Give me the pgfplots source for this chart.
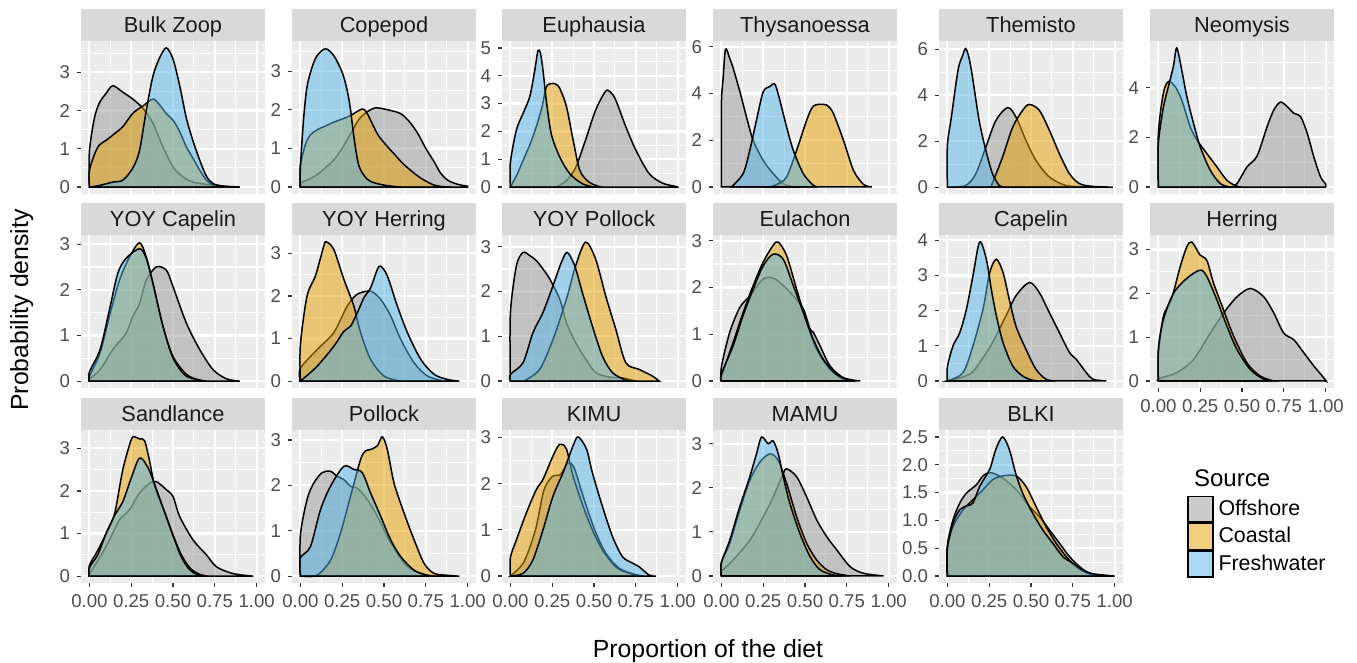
\documentclass[border=0pt]{standalone}
\usepackage{pgfplots}
\pgfplotsset{compat=1.18}
\usepackage{fontspec}
\setmainfont{Liberation Sans}
\definecolor{bgray}{HTML}{EBEBEB}
\definecolor{sgray}{HTML}{D9D9D9}
\definecolor{lgray}{HTML}{4D4D4D}
\definecolor{tgray}{HTML}{333333}
\definecolor{stxt}{HTML}{1A1A1A}
\definecolor{offc}{HTML}{999999}
\definecolor{coac}{HTML}{E69F00}
\definecolor{frwc}{HTML}{56B4E9}
\pgfplotsset{
 panel/.style={scale only axis, width=92pt, height=76.5pt, anchor=north west,
  xmin=-0.05, xmax=1.05, xtick={0,0.25,0.5,0.75,1}, minor xtick={0.125,0.375,0.625,0.875},
  xtick pos=bottom, ytick pos=left,
  grid=both, major grid style={white,line width=1.1pt}, minor grid style={white,line width=0.55pt},
  axis background/.style={fill=bgray}, axis line style={draw=none},
  tick align=outside, major tick length=2pt, minor tick length=0pt,
  tick style={color=tgray, line width=0.6pt},
  ticklabel style={font=\fontsize{9.3}{11}\selectfont, text=lgray},
  /pgf/number format/assume math mode=true,
  every axis title/.style={at={(0.5,1)}, anchor=south, yshift=0pt, fill=sgray, minimum width=92pt,
   minimum height=16pt, inner sep=0pt, text height=9.5pt, text depth=1.5pt, text=stxt,
   font=\fontsize{10.9}{12}\selectfont},
 },
 nox/.style={xticklabels={}, xtick style={draw=none}},
 withx/.style={xticklabel style={/pgf/number format/fixed, /pgf/number format/fixed zerofill, /pgf/number format/precision=2}},
 yA/.style={ytick={0,1,2,3}, minor ytick={0.5,1.5,2.5,3.5}},
 yB/.style={ytick={0,1,2,3,4}, minor ytick={0.5,1.5,2.5,3.5}},
 yC/.style={ytick={0,1,2,3,4,5}, minor ytick={0.5,1.5,2.5,3.5,4.5}},
 yD/.style={ytick={0,2,4,6}, minor ytick={1,3,5}},
 off/.style={draw=black, line width=0.75pt, fill=offc, fill opacity=0.5, smooth, tension=0.5},
 coa/.style={draw=black, line width=0.75pt, fill=coac, fill opacity=0.5, smooth, tension=0.5},
 frw/.style={draw=black, line width=0.75pt, fill=frwc, fill opacity=0.5, smooth, tension=0.5},
}
\begin{document}
\begin{tikzpicture}
\path[use as bounding box] (0,0) rectangle (678.5pt,-331.5pt);
% Row 1
\begin{axis}[panel, nox, yA, at={(40.5pt,-20.5pt)}, ymin=-0.182, ymax=3.82, title={Bulk Zoop}]
\addplot[off] coordinates {(0,0)(0,0.92)(0.03,1.8)(0.06,2.2)(0.1,2.45)(0.14,2.65)(0.2,2.48)(0.26,2.3)(0.32,2.06)(0.38,1.67)(0.44,1.05)(0.5,0.53)(0.56,0.26)(0.62,0.13)(0.7,0.07)(0.82,0.02)(0.9,0)} -- cycle;
\addplot[coa] coordinates {(0,0)(0,0.42)(0.03,0.85)(0.06,1.1)(0.1,1.22)(0.14,1.36)(0.2,1.58)(0.26,1.93)(0.32,2.12)(0.38,2.3)(0.42,2.15)(0.46,1.92)(0.5,1.75)(0.54,1.45)(0.58,1.05)(0.62,0.75)(0.66,0.44)(0.7,0.18)(0.74,0.05)(0.8,0)} -- cycle;
\addplot[frw] coordinates {(0,0)(0.06,0.04)(0.14,0.13)(0.2,0.18)(0.26,0.5)(0.3,0.96)(0.34,2.0)(0.38,2.9)(0.42,3.38)(0.46,3.64)(0.5,3.35)(0.54,2.65)(0.58,1.8)(0.62,1.2)(0.66,0.7)(0.7,0.28)(0.74,0.09)(0.8,0.02)(0.85,0)} -- cycle;
\end{axis}
\begin{axis}[panel, nox, yA, at={(146pt,-20.5pt)}, ymin=-0.18, ymax=3.78, title={Copepod}]
\addplot[off] coordinates {(0,0)(0,0.1)(0.05,0.2)(0.1,0.32)(0.15,0.5)(0.2,0.7)(0.25,1.0)(0.3,1.38)(0.35,1.75)(0.4,1.95)(0.45,2.05)(0.5,2.02)(0.55,1.97)(0.6,1.9)(0.65,1.7)(0.7,1.4)(0.75,1.0)(0.8,0.65)(0.84,0.35)(0.88,0.18)(0.92,0.1)(0.96,0.05)(1,0.02)(1,0)} -- cycle;
\addplot[coa] coordinates {(0,0)(0,0.55)(0.03,1.1)(0.06,1.35)(0.1,1.48)(0.15,1.58)(0.2,1.68)(0.25,1.76)(0.3,1.85)(0.37,2.02)(0.4,1.9)(0.46,1.38)(0.51,1.1)(0.56,0.86)(0.61,0.62)(0.66,0.43)(0.71,0.26)(0.76,0.13)(0.8,0.05)(0.85,0.01)(0.9,0)} -- cycle;
\addplot[frw] coordinates {(0,0)(0,0.5)(0.02,1.8)(0.04,2.6)(0.07,3.1)(0.1,3.4)(0.15,3.58)(0.2,3.4)(0.25,2.97)(0.28,2.5)(0.3,2.0)(0.32,1.3)(0.35,0.55)(0.4,0.2)(0.45,0.1)(0.5,0.05)(0.55,0.02)(0.6,0)} -- cycle;
\end{axis}
\begin{axis}[panel, nox, yC, at={(251pt,-20.5pt)}, ymin=-0.25, ymax=5.25, title={Euphausia}]
\addplot[off] coordinates {(0.27,0)(0.33,0.2)(0.39,0.7)(0.45,1.7)(0.51,2.77)(0.57,3.45)(0.6,3.4)(0.63,3.13)(0.69,2.17)(0.75,1.33)(0.83,0.48)(0.91,0.14)(0.99,0.02)(1,0)} -- cycle;
\addplot[coa] coordinates {(0,0)(0.04,0.45)(0.076,0.96)(0.115,1.5)(0.155,2.17)(0.19,2.9)(0.215,3.6)(0.245,3.72)(0.27,3.7)(0.295,3.55)(0.335,2.9)(0.375,1.7)(0.415,0.6)(0.47,0.18)(0.53,0.02)(0.55,0)} -- cycle;
\addplot[frw] coordinates {(0,0)(0,0.88)(0.036,2.05)(0.076,2.65)(0.116,3.25)(0.145,4.16)(0.165,4.9)(0.18,4.8)(0.195,4.2)(0.215,3.1)(0.245,1.9)(0.295,1.08)(0.355,0.48)(0.43,0.12)(0.5,0)} -- cycle;
\end{axis}
\begin{axis}[panel, nox, yD, at={(356.5pt,-20.5pt)}, ymin=-0.3, ymax=6.25, title={Thysanoessa}]
\addplot[off] coordinates {(0,0)(0,3.5)(0.01,4.6)(0.025,5.9)(0.05,5.5)(0.07,5.1)(0.11,4.1)(0.15,3.0)(0.19,2.0)(0.25,1.14)(0.31,0.57)(0.37,0.14)(0.43,0)} -- cycle;
\addplot[coa] coordinates {(0.29,0)(0.33,0.1)(0.39,0.43)(0.45,1.57)(0.51,2.86)(0.55,3.46)(0.61,3.54)(0.64,3.45)(0.67,3.14)(0.73,2.0)(0.79,0.71)(0.85,0.11)(0.9,0)} -- cycle;
\addplot[frw] coordinates {(0.06,0)(0.13,0.57)(0.17,1.57)(0.21,2.86)(0.25,4.07)(0.29,4.3)(0.32,4.4)(0.35,3.7)(0.39,2.57)(0.43,1.57)(0.49,0.57)(0.55,0.07)(0.58,0)} -- cycle;
\end{axis}
\begin{axis}[panel, nox, yD, at={(469.5pt,-20.5pt)}, ymin=-0.3, ymax=6.36, title={Themisto}]
\addplot[off] coordinates {(0.02,0)(0.11,0.07)(0.17,0.58)(0.23,1.74)(0.29,2.9)(0.36,3.46)(0.41,3.05)(0.47,2.03)(0.53,1.16)(0.61,0.44)(0.71,0.07)(0.85,0)} -- cycle;
\addplot[coa] coordinates {(0.26,0)(0.33,1.31)(0.39,2.6)(0.45,3.34)(0.49,3.6)(0.55,3.34)(0.61,2.47)(0.67,1.45)(0.73,0.58)(0.79,0.15)(0.87,0.03)(0.99,0)} -- cycle;
\addplot[frw] coordinates {(0,0)(0,1.8)(0.024,3.05)(0.064,5.1)(0.09,5.7)(0.11,6.03)(0.13,5.6)(0.15,4.8)(0.19,2.9)(0.23,1.6)(0.27,0.58)(0.31,0.07)(0.34,0)} -- cycle;
\end{axis}
\begin{axis}[panel, nox, yD, at={(575pt,-20.5pt)}, ymin=-0.28, ymax=5.88, title={Neomysis}]
\addplot[off] coordinates {(0.43,0)(0.47,0.14)(0.53,0.81)(0.59,1.25)(0.65,2.43)(0.69,3.1)(0.73,3.42)(0.77,3.24)(0.81,2.97)(0.85,2.84)(0.89,2.16)(0.93,1.2)(0.97,0.4)(1,0.13)(1,0)} -- cycle;
\addplot[coa] coordinates {(0,0)(0,2.16)(0.03,3.78)(0.06,4.25)(0.1,4.05)(0.14,3.5)(0.19,2.43)(0.23,1.9)(0.29,1.35)(0.35,0.81)(0.41,0.27)(0.47,0.03)(0.5,0)} -- cycle;
\addplot[frw] coordinates {(0,0)(0,1.75)(0.03,3.2)(0.06,4.05)(0.09,4.86)(0.11,5.6)(0.14,4.7)(0.17,3.65)(0.21,2.57)(0.25,1.62)(0.31,0.68)(0.37,0.14)(0.43,0)} -- cycle;
\end{axis}
% Row 2
\begin{axis}[panel, nox, yA, at={(40.5pt,-117.5pt)}, ymin=-0.15, ymax=3.2, title={YOY Capelin}]
\addplot[off] coordinates {(0,0)(0,0.05)(0.064,0.25)(0.14,0.69)(0.22,1.05)(0.26,1.42)(0.3,1.7)(0.34,2.21)(0.4,2.5)(0.46,2.43)(0.5,2.07)(0.58,1.27)(0.66,0.69)(0.74,0.25)(0.82,0.05)(0.9,0)} -- cycle;
\addplot[coa] coordinates {(0,0)(0,0.1)(0.064,0.62)(0.12,1.42)(0.18,2.21)(0.24,2.72)(0.3,3.03)(0.34,2.72)(0.38,2.14)(0.44,1.2)(0.5,0.54)(0.58,0.15)(0.66,0.02)(0.7,0)} -- cycle;
\addplot[frw] coordinates {(0,0)(0,0.2)(0.064,0.69)(0.12,1.56)(0.17,2.36)(0.22,2.69)(0.3,2.9)(0.34,2.69)(0.38,2.14)(0.44,1.2)(0.5,0.51)(0.58,0.11)(0.7,0)} -- cycle;
\end{axis}
\begin{axis}[panel, nox, yA, at={(146pt,-117.5pt)}, ymin=-0.16, ymax=3.43, title={YOY Herring}]
\addplot[off] coordinates {(0,0)(0,0.3)(0.1,0.74)(0.2,1.14)(0.28,1.76)(0.34,2.04)(0.42,2.11)(0.48,1.92)(0.54,1.53)(0.6,0.98)(0.68,0.43)(0.76,0.12)(0.86,0)} -- cycle;
\addplot[coa] coordinates {(0,0)(0,0.85)(0.04,2.0)(0.09,2.47)(0.14,3.17)(0.155,3.27)(0.2,3.09)(0.26,2.39)(0.32,1.76)(0.36,1.14)(0.42,0.51)(0.5,0.12)(0.6,0)} -- cycle;
\addplot[frw] coordinates {(0,0)(0.1,0.35)(0.2,0.82)(0.26,1.17)(0.3,1.29)(0.34,1.6)(0.38,1.96)(0.42,2.19)(0.46,2.62)(0.48,2.7)(0.52,2.47)(0.58,1.76)(0.64,1.14)(0.72,0.51)(0.8,0.16)(0.88,0.04)(0.95,0)} -- cycle;
\end{axis}
\begin{axis}[panel, nox, yA, at={(251pt,-117.5pt)}, ymin=-0.155, ymax=3.26, title={YOY Pollock}]
\addplot[off] coordinates {(0,0)(0,1.5)(0.036,2.57)(0.076,2.87)(0.116,2.8)(0.155,2.69)(0.195,2.5)(0.235,2.28)(0.295,1.83)(0.335,1.31)(0.39,0.86)(0.45,0.49)(0.51,0.19)(0.59,0.09)(0.67,0.07)(0.75,0)} -- cycle;
\addplot[coa] coordinates {(0.08,0)(0.175,0.26)(0.255,0.93)(0.335,1.83)(0.39,2.57)(0.45,3.1)(0.51,2.72)(0.57,1.9)(0.63,1.16)(0.69,0.41)(0.77,0.26)(0.85,0.11)(0.89,0)} -- cycle;
\addplot[frw] coordinates {(0,0)(0,0.15)(0.076,0.41)(0.135,1.08)(0.195,1.53)(0.255,2.13)(0.305,2.65)(0.34,2.87)(0.385,2.57)(0.43,1.98)(0.49,1.23)(0.55,0.56)(0.61,0.19)(0.69,0.02)(0.72,0)} -- cycle;
\end{axis}
\begin{axis}[panel, nox, yA, at={(356.5pt,-117.5pt)}, ymin=-0.15, ymax=3.12, title={Eulachon}]
\addplot[off] coordinates {(0,0)(0,0.3)(0.05,1.04)(0.11,1.57)(0.17,1.82)(0.25,2.18)(0.31,2.2)(0.37,2.04)(0.43,1.82)(0.49,1.54)(0.53,1.11)(0.55,1.04)(0.59,0.75)(0.65,0.32)(0.73,0.07)(0.83,0)} -- cycle;
\addplot[coa] coordinates {(0,0)(0,0.1)(0.07,0.82)(0.13,1.46)(0.19,2.04)(0.25,2.54)(0.31,2.9)(0.34,2.97)(0.39,2.68)(0.45,1.96)(0.51,1.25)(0.57,0.68)(0.65,0.25)(0.73,0.04)(0.8,0)} -- cycle;
\addplot[frw] coordinates {(0,0)(0,0.15)(0.07,0.75)(0.13,1.4)(0.19,1.96)(0.25,2.46)(0.31,2.71)(0.37,2.6)(0.43,2.04)(0.49,1.46)(0.55,0.89)(0.61,0.46)(0.69,0.14)(0.77,0.01)(0.8,0)} -- cycle;
\end{axis}
\begin{axis}[panel, nox, yB, at={(469.5pt,-117.5pt)}, ymin=-0.2, ymax=4.15, title={Capelin}]
\addplot[off] coordinates {(0,0)(0.133,0.19)(0.193,0.52)(0.27,1.09)(0.35,1.85)(0.41,2.42)(0.49,2.8)(0.55,2.51)(0.61,1.94)(0.67,1.37)(0.73,0.81)(0.77,0.62)(0.83,0.24)(0.87,0.05)(0.95,0)} -- cycle;
\addplot[coa] coordinates {(0,0)(0.094,0.24)(0.153,1.0)(0.213,2.04)(0.253,3.08)(0.293,3.46)(0.333,3.08)(0.37,2.32)(0.41,1.56)(0.47,0.9)(0.53,0.33)(0.59,0.05)(0.65,0)} -- cycle;
\addplot[frw] coordinates {(0,0)(0,0.4)(0.034,1.0)(0.074,1.37)(0.114,2.04)(0.153,2.99)(0.193,3.95)(0.233,3.46)(0.263,2.6)(0.293,1.85)(0.333,1.09)(0.39,0.43)(0.45,0.14)(0.51,0.02)(0.55,0)} -- cycle;
\end{axis}
\begin{axis}[panel, withx, yA, at={(575pt,-117.5pt)}, ymin=-0.16, ymax=3.33, title={Herring}]
\addplot[off] coordinates {(0,0)(0,0.05)(0.11,0.19)(0.21,0.49)(0.31,1.09)(0.39,1.55)(0.47,1.92)(0.55,2.11)(0.63,1.92)(0.69,1.55)(0.75,1.09)(0.81,0.94)(0.87,0.64)(0.93,0.34)(1,0.02)(1,0)} -- cycle;
\addplot[coa] coordinates {(0,0)(0,0.6)(0.03,1.47)(0.08,1.89)(0.13,2.6)(0.17,3.06)(0.2,3.17)(0.25,2.87)(0.29,2.75)(0.33,2.23)(0.39,1.62)(0.45,1.02)(0.53,0.41)(0.61,0.11)(0.69,0)} -- cycle;
\addplot[frw] coordinates {(0,0)(0,0.75)(0.03,1.4)(0.09,2.0)(0.17,2.34)(0.25,2.53)(0.29,2.38)(0.35,1.85)(0.41,1.25)(0.47,0.72)(0.55,0.26)(0.63,0.04)(0.68,0)} -- cycle;
\end{axis}
% Row 3
\begin{axis}[panel, withx, yA, at={(40.5pt,-215pt)}, ymin=-0.16, ymax=3.43, title={Sandlance}]
\addplot[off] coordinates {(0,0)(0,0.05)(0.064,0.45)(0.12,0.85)(0.18,1.32)(0.24,1.56)(0.3,1.95)(0.36,2.18)(0.4,2.22)(0.46,2.03)(0.5,1.87)(0.54,1.4)(0.62,0.85)(0.7,0.5)(0.76,0.22)(0.86,0.06)(0.98,0)} -- cycle;
\addplot[coa] coordinates {(0,0)(0,0.25)(0.05,0.6)(0.1,1.0)(0.15,1.45)(0.2,2.5)(0.25,3.2)(0.27,3.27)(0.3,3.22)(0.33,3.18)(0.36,2.7)(0.38,2.3)(0.4,2.0)(0.45,1.5)(0.5,0.97)(0.55,0.5)(0.6,0.2)(0.65,0.06)(0.7,0)} -- cycle;
\addplot[frw] coordinates {(0,0)(0,0.2)(0.05,0.5)(0.1,1.0)(0.15,1.42)(0.2,1.75)(0.25,2.3)(0.3,2.77)(0.35,2.55)(0.4,2.05)(0.45,1.5)(0.5,0.95)(0.55,0.45)(0.6,0.15)(0.65,0.03)(0.7,0)} -- cycle;
\end{axis}
\begin{axis}[panel, withx, yA, at={(146pt,-215pt)}, ymin=-0.15, ymax=3.22, title={Pollock}]
\addplot[off] coordinates {(0,0)(0,0.9)(0.04,1.69)(0.08,2.05)(0.13,2.28)(0.18,2.31)(0.22,2.2)(0.26,2.13)(0.3,1.98)(0.34,1.94)(0.4,1.69)(0.46,1.32)(0.52,0.87)(0.58,0.5)(0.64,0.21)(0.72,0.06)(0.8,0)} -- cycle;
\addplot[coa] coordinates {(0.02,0)(0.1,0.02)(0.18,0.35)(0.24,0.95)(0.3,1.76)(0.36,2.57)(0.39,2.76)(0.42,2.79)(0.46,2.87)(0.49,3.07)(0.52,2.79)(0.56,2.05)(0.62,1.39)(0.68,0.8)(0.74,0.28)(0.8,0.06)(0.88,0.02)(0.95,0)} -- cycle;
\addplot[frw] coordinates {(0,0)(0,0.4)(0.06,0.65)(0.12,1.46)(0.18,1.98)(0.26,2.42)(0.32,2.35)(0.37,2.28)(0.42,1.83)(0.48,1.32)(0.54,0.8)(0.6,0.43)(0.68,0.13)(0.76,0.02)(0.8,0)} -- cycle;
\end{axis}
\begin{axis}[panel, withx, yA, at={(251pt,-215pt)}, ymin=-0.15, ymax=3.16, title={KIMU}]
\addplot[off] coordinates {(0,0)(0.08,0.3)(0.15,1.0)(0.2,1.85)(0.25,2.15)(0.3,2.2)(0.345,2.45)(0.38,2.35)(0.42,1.9)(0.46,1.45)(0.51,0.95)(0.57,0.5)(0.65,0.17)(0.75,0.03)(0.8,0)} -- cycle;
\addplot[coa] coordinates {(0,0)(0,0.4)(0.036,0.78)(0.096,1.37)(0.155,1.87)(0.195,2.09)(0.255,2.6)(0.295,2.85)(0.335,2.75)(0.375,2.16)(0.435,1.51)(0.49,1.0)(0.55,0.57)(0.63,0.2)(0.71,0.06)(0.78,0)} -- cycle;
\addplot[frw] coordinates {(0,0)(0.076,0.06)(0.135,0.35)(0.195,1.0)(0.255,1.73)(0.315,2.24)(0.375,2.82)(0.405,3.01)(0.455,2.75)(0.49,2.24)(0.55,1.51)(0.61,0.86)(0.67,0.42)(0.73,0.28)(0.77,0.2)(0.83,0.02)(0.87,0)} -- cycle;
\end{axis}
\begin{axis}[panel, withx, yA, at={(356.5pt,-215pt)}, ymin=-0.16, ymax=3.31, title={MAMU}]
\addplot[off] coordinates {(0,0)(0,0.1)(0.07,0.36)(0.17,0.81)(0.25,1.34)(0.31,1.79)(0.37,2.32)(0.39,2.43)(0.45,2.25)(0.51,1.79)(0.57,1.27)(0.63,0.89)(0.69,0.59)(0.77,0.21)(0.85,0.06)(0.97,0)} -- cycle;
\addplot[coa] coordinates {(0,0)(0,0.3)(0.05,0.74)(0.11,1.49)(0.17,2.17)(0.23,2.58)(0.29,2.77)(0.34,2.62)(0.39,2.1)(0.45,1.34)(0.51,0.74)(0.57,0.36)(0.63,0.14)(0.69,0.05)(0.77,0)} -- cycle;
\addplot[frw] coordinates {(0,0)(0,0.3)(0.05,0.81)(0.11,1.57)(0.17,2.25)(0.21,2.77)(0.24,3.15)(0.28,3.0)(0.31,3.06)(0.34,2.77)(0.37,2.25)(0.41,1.64)(0.47,0.96)(0.53,0.44)(0.59,0.14)(0.67,0.02)(0.72,0)} -- cycle;
\end{axis}
\begin{axis}[panel, withx, at={(469.5pt,-215pt)}, ymin=-0.125, ymax=2.625, title={BLKI},
  ytick={0,0.5,1,1.5,2,2.5}, minor ytick={0.25,0.75,1.25,1.75,2.25},
  yticklabel style={/pgf/number format/fixed, /pgf/number format/fixed zerofill, /pgf/number format/precision=1},
  legend entries={Offshore,Coastal,Freshwater},
  legend style={at={(axis description cs:1.348,0.571)}, anchor=north west, draw=none, fill=none,
    inner sep=0pt, outer sep=0pt, row sep=0pt, column sep=2.5pt,
    nodes={inner sep=0pt, font=\fontsize{10.7}{12}\selectfont, text=black}},
  legend cell align=left,
  legend image code/.code={\draw[#1] (0pt,-6.45pt) rectangle (12.5pt,6.45pt);}]
\addplot[off] coordinates {(0,0)(0,0.55)(0.034,1.01)(0.074,1.31)(0.114,1.49)(0.173,1.64)(0.213,1.8)(0.253,1.86)(0.31,1.8)(0.37,1.67)(0.43,1.49)(0.49,1.25)(0.55,1.07)(0.61,0.83)(0.67,0.59)(0.73,0.35)(0.79,0.17)(0.85,0.05)(0.95,0.01)(1,0)} -- cycle;
\addplot[coa] coordinates {(0,0)(0,0.5)(0.034,0.89)(0.094,1.19)(0.153,1.37)(0.213,1.55)(0.27,1.73)(0.33,1.8)(0.41,1.8)(0.47,1.61)(0.53,1.25)(0.59,0.89)(0.65,0.59)(0.71,0.35)(0.77,0.17)(0.83,0.06)(0.9,0.01)(0.99,0)} -- cycle;
\addplot[frw] coordinates {(0,0)(0,0.5)(0.034,0.95)(0.074,1.19)(0.114,1.26)(0.153,1.31)(0.193,1.61)(0.253,1.92)(0.29,2.28)(0.33,2.5)(0.37,2.28)(0.41,1.83)(0.45,1.49)(0.51,1.13)(0.57,0.83)(0.63,0.59)(0.69,0.35)(0.75,0.23)(0.81,0.11)(0.87,0.04)(0.99,0)} -- cycle;
\end{axis}
\node[anchor=base west, font=\fontsize{12}{14}\selectfont] at (593.5pt,-243.5pt) {Source};
\node[anchor=base, rotate=90, font=\fontsize{12.4}{14}\selectfont] at (14pt,-155pt) {Probability density};
\node[anchor=base, font=\fontsize{12.4}{14}\selectfont] at (354pt,-329pt) {Proportion of the diet};
\end{tikzpicture}
\end{document}
